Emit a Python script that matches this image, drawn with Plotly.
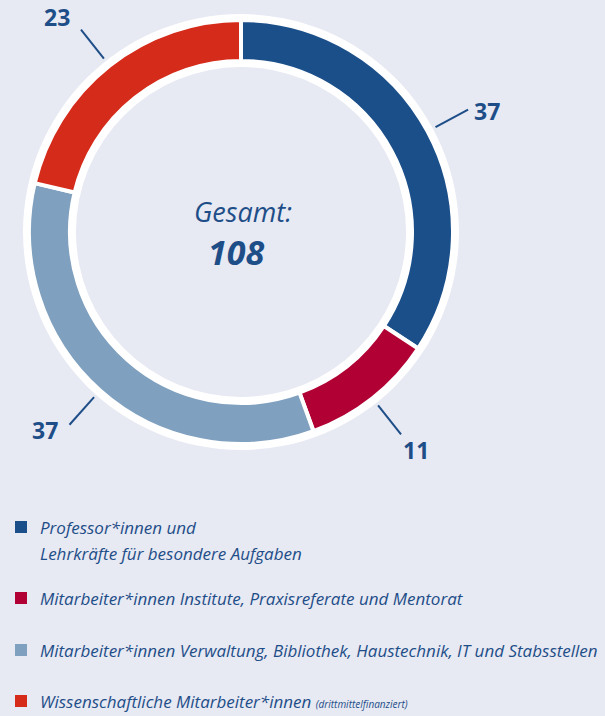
import math
import plotly.graph_objects as go

# ── data ─────────────────────────────────────────────────────────────────────
categories = [
    'Professor*innen und Lehrkräfte für besondere Aufgaben',
    'Mitarbeiter*innen Institute, Praxisreferate und Mentorat',
    'Mitarbeiter*innen Verwaltung, Bibliothek, Haustechnik, IT und Stabsstellen',
    'Wissenschaftliche Mitarbeiter*innen (drittmittelfinanziert)',
]
counts = [37, 11, 37, 23]
colors = ['#1b4f8a', '#b00034', '#7fa0bf', '#d52b1a']
legend_lines = [
    ['Professor*innen und', 'Lehrkräfte für besondere Aufgaben'],
    ['Mitarbeiter*innen Institute, Praxisreferate und Mentorat'],
    ['Mitarbeiter*innen Verwaltung, Bibliothek, Haustechnik, IT und Stabsstellen'],
    ["Wissenschaftliche Mitarbeiter*innen <span style='font-size:10px'>(drittmittelfinanziert)</span>"],
]
total_label = 'Gesamt:'

W, H = 605, 716
BG = '#e7e9f3'
TXT = '#1e4e88'
FONT = 'Open Sans, sans-serif'

CX, CY = 241, 232          # donut centre in px
R_OUT, R_IN = 212, 171     # coloured ring
R_W_OUT, R_W_IN = 218, 165  # white halo ring
# nudge of each value label from the end of its leader line (px)
LABEL_NUDGE = [(19, 1), (15, 16), (-24, 5), (-24, -13)]


def px_x(x):
    return x / W


def px_y(y):
    return 1 - y / H


def dom(r):
    return dict(x=[px_x(CX - r), px_x(CX + r)], y=[px_y(CY + r), px_y(CY - r)])


fig = go.Figure()

# white halo behind the ring
fig.add_trace(go.Pie(
    values=[1], marker=dict(colors=['white'], line=dict(width=0)),
    hole=R_W_IN / R_W_OUT, domain=dom(R_W_OUT),
    textinfo='none', hoverinfo='skip', showlegend=False, sort=False,
))

fig.add_trace(go.Pie(
    labels=categories, values=counts,
    marker=dict(colors=colors, line=dict(color='white', width=4)),
    hole=R_IN / R_OUT, domain=dom(R_OUT),
    sort=False, direction='clockwise', rotation=0,
    textinfo='none', showlegend=False,
))

# ── outside value labels with leader lines ───────────────────────────────────
total = sum(counts)
annotations = []
shapes = []
cum = 0
for v, (nx, ny) in zip(counts, LABEL_NUDGE):
    ang = math.radians((cum + v / 2) / total * 360)
    cum += v
    sx, sy = math.sin(ang), -math.cos(ang)
    ex, ey = CX + 258 * sx, CY + 258 * sy
    shapes.append(dict(
        type='line', xref='paper', yref='paper',
        x0=px_x(CX + 221 * sx), y0=px_y(CY + 221 * sy),
        x1=px_x(ex), y1=px_y(ey),
        line=dict(color=TXT, width=2),
    ))
    annotations.append(dict(
        x=px_x(ex + nx), y=px_y(ey + ny), xref='paper', yref='paper',
        text=f'<b>{v}</b>', showarrow=False,
        font=dict(family=FONT, size=23, color=TXT),
        xanchor='center', yanchor='middle',
    ))

# centre text
annotations.append(dict(
    x=px_x(243), y=px_y(212), xref='paper', yref='paper',
    text=f'<i>{total_label}</i>', showarrow=False,
    xanchor='center', yanchor='middle',
    font=dict(family=FONT, size=27, color=TXT),
))
annotations.append(dict(
    x=px_x(236), y=px_y(252), xref='paper', yref='paper',
    text=f'<b><i>{total}</i></b>', showarrow=False,
    xanchor='center', yanchor='middle',
    font=dict(family=FONT, size=34, color=TXT),
))

# ── manual legend ────────────────────────────────────────────────────────────
legend_y = [527, 598, 650, 701]
for col, lines, y0 in zip(colors, legend_lines, legend_y):
    shapes.append(dict(
        type='rect', xref='paper', yref='paper',
        x0=px_x(15), x1=px_x(27), y0=px_y(y0 + 6), y1=px_y(y0 - 6),
        fillcolor=col, line=dict(width=0),
    ))
    for i, ln in enumerate(lines):
        annotations.append(dict(
            x=px_x(38), y=px_y(y0 + 26 * i), xref='paper', yref='paper',
            text=f'<i>{ln}</i>', showarrow=False,
            xanchor='left', yanchor='middle',
            font=dict(family=FONT, size=17, color=TXT),
        ))

fig.update_layout(
    width=W, height=H,
    margin=dict(l=0, r=0, t=0, b=0),
    paper_bgcolor=BG, plot_bgcolor=BG,
    annotations=annotations, shapes=shapes,
    showlegend=False,
)

fig.write_html('out.html', config={'displayModeBar': False},
               post_script="document.body.style.margin='0';")
